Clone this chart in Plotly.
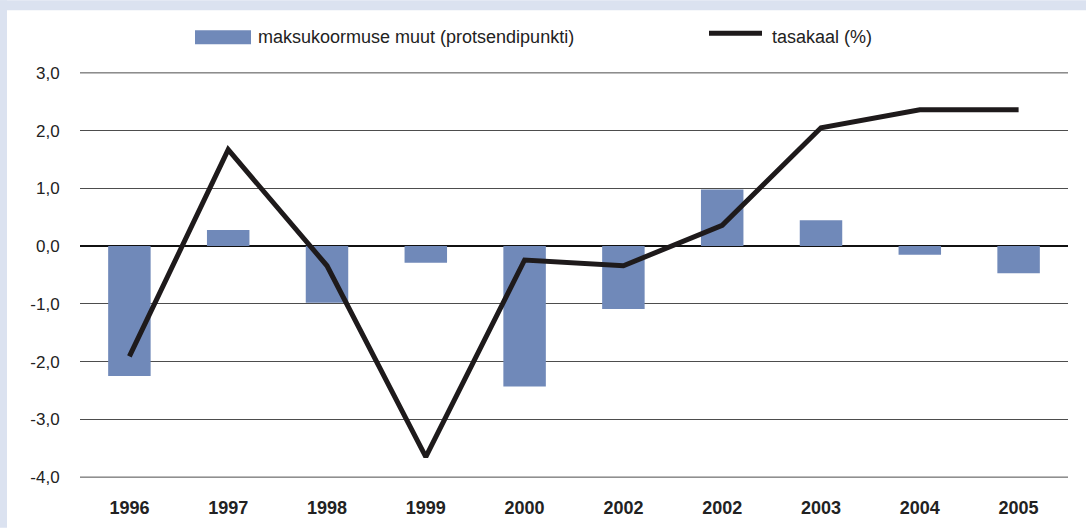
import plotly.graph_objects as go

years = ["1996", "1997", "1998", "1999", "2000", "2002", "2002", "2003", "2004", "2005"]
muut = [-2.25, 0.28, -0.98, -0.29, -2.43, -1.09, 0.98, 0.45, -0.15, -0.47]
tasakaal = [-1.91, 1.67, -0.34, -3.65, -0.24, -0.34, 0.36, 2.05, 2.36, 2.36]
ytick_vals = [3, 2, 1, 0, -1, -2, -3, -4]
ytick_text = ["3,0", "2,0", "1,0", "0,0", "-1,0", "-2,0", "-3,0", "-4,0"]
legend_names = ["maksukoormuse muut (protsendipunkti)", "tasakaal (%)"]

W, H = 1086, 530
L, R, T, B = 80, 18, 72, 50
PW, PH = W - L - R, H - T - B

def px(x):
    return (x - L) / PW

def py(y):
    return (H - B - y) / PH

xs = list(range(len(years)))
BAR = "#7089b9"
LINE = "#1e1a1b"
GRID = "#4d4d4d"
FONT = "Liberation Sans, Arial, sans-serif"

fig = go.Figure()
fig.add_trace(go.Bar(x=xs, y=muut, width=0.43, marker=dict(color=BAR, line=dict(width=0)),
                     name=legend_names[0], showlegend=False))
fig.add_trace(go.Scatter(x=xs, y=tasakaal, mode="lines", line=dict(color=LINE, width=5),
                         name=legend_names[1], showlegend=False))

shapes = [
    dict(type="rect", xref="paper", yref="paper", x0=px(0), x1=px(W), y0=py(0), y1=py(10),
         fillcolor="#dbe2f0", line=dict(width=0), layer="below"),
    dict(type="rect", xref="paper", yref="paper", x0=px(0), x1=px(7), y0=py(0), y1=py(H),
         fillcolor="#dbe2f0", line=dict(width=0), layer="below"),
    # edge gridlines (top and bottom ticks)
    dict(type="line", xref="paper", yref="y", x0=0, x1=1, y0=ytick_vals[0], y1=ytick_vals[0],
         line=dict(color=GRID, width=1), layer="below"),
    dict(type="line", xref="paper", yref="y", x0=0, x1=1, y0=ytick_vals[-1], y1=ytick_vals[-1],
         line=dict(color=GRID, width=1), layer="below"),
    # legend swatches
    dict(type="rect", xref="paper", yref="paper", x0=px(195), x1=px(251), y0=py(44), y1=py(30),
         fillcolor=BAR, line=dict(width=0)),
    dict(type="line", xref="paper", yref="paper", x0=px(709), x1=px(762), y0=py(33), y1=py(33),
         line=dict(color=LINE, width=5)),
]
annotations = [
    dict(xref="paper", yref="paper", x=px(256), y=py(37), text=legend_names[0], showarrow=False,
         xanchor="left", yanchor="middle", font=dict(size=18, color="#222222")),
    dict(xref="paper", yref="paper", x=px(770), y=py(37), text=legend_names[1], showarrow=False,
         xanchor="left", yanchor="middle", font=dict(size=18, color="#222222")),
]

fig.update_layout(
    width=W, height=H,
    margin=dict(l=L, r=R, t=T, b=B),
    paper_bgcolor="white", plot_bgcolor="white",
    font=dict(family=FONT, color="#222222"),
    shapes=shapes, annotations=annotations,
    showlegend=False,
    xaxis=dict(tickmode="array", tickvals=xs, ticktext=years, range=[-0.5, len(years) - 0.5],
               showgrid=False, zeroline=False, showline=False,
               ticks="outside", ticklen=13, tickcolor="rgba(0,0,0,0)",
               tickfont=dict(size=18, family=FONT, color="#222222", weight="bold")),
    yaxis=dict(tickmode="array", tickvals=ytick_vals, ticktext=ytick_text, range=[-4.015, 3.015],
               showgrid=True, gridcolor=GRID, gridwidth=1,
               zeroline=True, zerolinecolor="#111111", zerolinewidth=2, showline=False,
               ticks="outside", ticklen=16, tickcolor="rgba(0,0,0,0)",
               tickfont=dict(size=17, color="#222222")),
)

fig.write_html("out.html", config={"displayModeBar": False},
               post_script="document.body.style.margin='0';document.body.style.overflow='hidden';")
